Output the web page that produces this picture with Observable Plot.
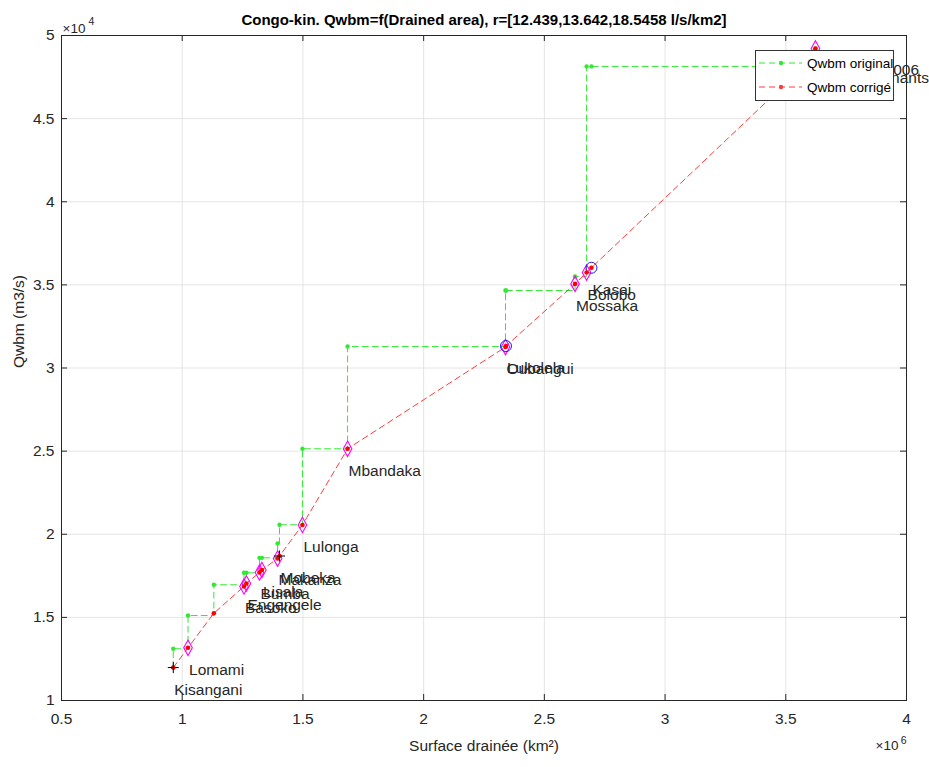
<!DOCTYPE html>
<html>
<head>
<meta charset="utf-8">
<script src="https://cdn.jsdelivr.net/npm/d3@7"></script>
<script src="https://cdn.jsdelivr.net/npm/@observablehq/plot@0.6"></script>
<style>
  body { margin: 0; background: #fff; }
  #wrap { position: relative; width: 929px; height: 767px; font-family: "Liberation Sans", Arial, sans-serif; }
  #legend { position: absolute; left: 755px; top: 50px; }
</style>
</head>
<body>
<div id="wrap"></div>
<script>
// ---- data ----
const stations = ["Kisangani","Lomami","Isangi","Basoko","Engengele","Bumba","Lisala","Makanza","Mobeka","Lulonga","Mbandaka","Oubangui","Lukolela","Mossaka","Bolobo","Kasai","Les intervenants","Kinshasa 2006"];
const area  = [0.963e6,1.024e6,1.131e6,1.256e6,1.266e6,1.320e6,1.330e6,1.395e6,1.403e6,1.498e6,1.685e6,2.339e6,2.341e6,2.627e6,2.675e6,2.695e6,3.618e6,3.623e6];
const qOrig = [13110,15110,16960,17680,17680,18580,18580,19440,20570,25140,31290,34660,34660,35500,48140,48140,48740,49220];
const qCorr = [11980,13170,15250,16860,17040,17700,17850,18540,18690,20560,25140,31260,31320,35060,35740,36030,48740,49220];
const unlabeled = ["Isangi"];
const diamondStations = ["Lomami","Basoko","Engengele","Bumba","Lisala","Makanza","Lulonga","Mbandaka","Oubangui","Mossaka","Bolobo","Les intervenants","Kinshasa 2006"];
const circleStations = ["Lukolela","Kasai"];
const plusStations = ["Kisangani","Mobeka"];
const xTicks = [0.5e6,1e6,1.5e6,2e6,2.5e6,3e6,3.5e6,4e6];
const yTicks = [1e4,1.5e4,2e4,2.5e4,3e4,3.5e4,4e4,4.5e4,5e4];
const titleText = "Congo-kin. Qwbm=f(Drained area), r=[12.439,13.642,18.5458 l/s/km2]";
const xLabel = "Surface drainée (km²)";
const yLabel = "Qwbm (m3/s)";
const legendLabels = ["Qwbm original","Qwbm corrigé"];
const xExp = "6", yExp = "4";

// ---- tables ----
const rows = stations.map((s,i)=>({name:s, x:area[i], o:qOrig[i], c:qCorr[i]}));
const greenPath = [{x:area[0], o:qCorr[0]}, ...rows.map(r=>({x:r.x, o:r.o}))];

const tallDiamond = {draw(ctx, size){ const r = Math.sqrt(size/Math.PI); ctx.moveTo(0,-r*1.8); ctx.lineTo(r,0); ctx.lineTo(0,r*1.8); ctx.lineTo(-r,0); ctx.closePath(); }};
const thinPlus = {draw(ctx, size){ const r = Math.sqrt(size/Math.PI); ctx.moveTo(-r,0); ctx.lineTo(r,0); ctx.moveTo(0,-r); ctx.lineTo(0,r); }};

const W = 929, H = 767, mL = 61, mR = 23, mT = 35, mB = 67;
const pw = W - mL - mR, ph = H - mT - mB;
const green = "#33e833", red = "#ff3b3b", txt = "#262626";
const font = "Liberation Sans, Arial, sans-serif";
const fx = d => d3.format("~g")(d/1e6);
const fy = d => d3.format("~g")(d/1e4);

const chart = Plot.plot({
  width: W, height: H,
  marginLeft: mL, marginRight: mR, marginTop: mT, marginBottom: mB,
  style: {fontFamily: font, color: txt, background: "#fff", overflow: "visible"},
  x: {domain: [0.5e6, 4e6], label: null},
  y: {domain: [1e4, 5e4], label: null},
  marks: [
    Plot.gridX(xTicks, {stroke: "#e4e4e4", strokeOpacity: 1}),
    Plot.gridY(yTicks, {stroke: "#e4e4e4", strokeOpacity: 1}),
    Plot.axisX({ticks: xTicks, tickFormat: fx, tickSize: 0, tickPadding: 12, fontSize: 15.5, fill: txt, label: null}),
    Plot.axisY({ticks: yTicks, tickFormat: fy, tickSize: 0, tickPadding: 7, fontSize: 15.5, fill: txt, label: null}),
    Plot.tickX(xTicks, {x: d=>d, insetTop: ph-6, stroke: txt}),
    Plot.tickX(xTicks, {x: d=>d, insetBottom: ph-6, stroke: txt}),
    Plot.tickY(yTicks, {y: d=>d, insetRight: pw-6, stroke: txt}),
    Plot.tickY(yTicks, {y: d=>d, insetLeft: pw-6, stroke: txt}),
    Plot.frame({stroke: txt}),
    // original (staircase)
    Plot.line(greenPath, {x:"x", y:"o", curve:"step-after", stroke: green, strokeDasharray:"6,4", strokeWidth: 1}),
    Plot.dot(greenPath, {x:"x", y:"o", r: 2.2, fill: green}),
    // corrected
    Plot.line(rows, {x:"x", y:"c", stroke: red, strokeDasharray:"6,4", strokeWidth: 1}),
    Plot.dot(rows.filter(r=>diamondStations.includes(r.name)), {x:"x", y:"c", symbol: tallDiamond, r: 4.3, stroke:"#ff00ff", fill:"none", strokeWidth: 1.1}),
    Plot.dot(rows.filter(r=>circleStations.includes(r.name)), {x:"x", y:"c", r: 5.5, stroke:"#1a1aff", fill:"none", strokeWidth: 1}),
    Plot.dot(rows, {x:"x", y:"c", r: 2.3, fill: "#ff0000"}),
    Plot.dot(rows.filter(r=>plusStations.includes(r.name)), {x:"x", y:"c", symbol: thinPlus, r: 5.5, stroke:"#000", fill:"none", strokeWidth: 1}),
    // station labels
    Plot.text(rows.filter(r=>!unlabeled.includes(r.name)), {x:"x", y:"c", text:"name", dx: 1, dy: 22, textAnchor:"start", fontSize: 15.5, fill: txt}),
    // title, axis labels, exponents
    Plot.text([titleText], {frameAnchor:"top", dy:-21, fontSize: 15, fontWeight:"bold", fill: "#000", fontFamily: "Liberation Sans Narrow, Arial Narrow, sans-serif"}),
    Plot.text(["×10"], {frameAnchor:"top-left", dx: 1, dy:-12, textAnchor:"start", fontSize: 13.5, fill: txt}),
    Plot.text([yExp], {frameAnchor:"top-left", dx: 27, dy:-18, textAnchor:"start", fontSize: 10.5, fill: txt}),
    Plot.text(["×10"], {frameAnchor:"bottom-right", dx: -8, dy: 49, textAnchor:"end", fontSize: 13.5, fill: txt}),
    Plot.text([xExp], {frameAnchor:"bottom-right", dx: 0, dy: 43, textAnchor:"end", fontSize: 10.5, fill: txt}),
    Plot.text([xLabel], {frameAnchor:"bottom", dy: 50, fontSize: 15.5, fill: txt}),
    Plot.text([yLabel], {frameAnchor:"left", dx:-42, rotate:-90, fontSize: 15.5, fill: txt})
  ]
});
document.getElementById("wrap").appendChild(chart);

// legend overlay
const lg = d3.select("#wrap").append("svg").attr("id","legend").attr("width",139).attr("height",51);
lg.append("rect").attr("x",0.5).attr("y",0.5).attr("width",138).attr("height",50).attr("fill","#fff").attr("stroke","#333");
[[green, 13],[red, 37]].forEach(([col, y], i) => {
  lg.append("line").attr("x1",4).attr("x2",47).attr("y1",y).attr("y2",y).attr("stroke",col).attr("stroke-dasharray","6,4");
  lg.append("circle").attr("cx",26).attr("cy",y).attr("r",2.2).attr("fill",col);
  lg.append("text").attr("x",52).attr("y",y).attr("dy","0.35em").attr("font-size",13.5).attr("fill","#000")
    .attr("font-family",font).text(legendLabels[i]);
});
</script>
</body>
</html>
